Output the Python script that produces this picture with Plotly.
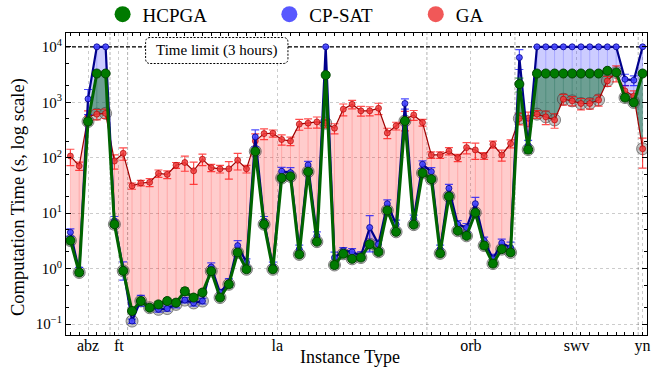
import numpy as np
import plotly.graph_objects as go

# ---------------- data ----------------
groups = ["abz", "ft", "la", "orb", "swv", "yn"]
group_sizes = [5, 2, 34, 10, 14, 1]

hcpga = [3.2, 0.85, 450, 3300, 3300,
         6.3, 0.91,
         0.172, 0.26, 0.197, 0.226, 0.26, 0.243, 0.39, 0.30, 0.37, 0.90, 0.30, 0.52, 1.95, 0.97,
         130, 6.3, 0.97, 43, 46, 1.8, 56, 3.06, 3100, 1.16, 1.85, 1.5, 1.58, 2.75, 2.0, 11.2,
         4.6, 460, 6.2, 53,
         41, 1.88, 20, 4.8, 3.9, 10.2, 2.6, 1.23, 2.24, 1.95,
         2130, 140, 3300, 3300, 3300, 3300, 3300, 3300, 3300, 3300, 3700, 3450, 1215, 990,
         3300]
hcpga_err = [0.4, 0.1, 60, 200, 200,
             0.6, 0.1,
             0.02, 0.03, 0.02, 0.03, 0.03, 0.03, 0.06, 0.03, 0.04, 0.1, 0.03, 0.06, 0.2, 0.1,
             12, 0.6, 0.1, 4, 4, 0.2, 5, 0.3, 250, 0.15, 0.15, 0.15, 0.15, 0.3, 0.2, 1.0,
             0.5, 50, 0.6, 5,
             4, 0.2, 2, 0.5, 0.4, 1.0, 0.3, 0.15, 0.2, 0.2,
             600, 20, 150, 150, 150, 150, 150, 150, 150, 150, 250, 250, 150, 100,
             200]

cpsat = [4.5, 0.9, 1150, 10000, 10000,
         7.2, 0.97,
         0.113, 0.27, 0.20, 0.184, 0.19, 0.226, 0.27, 0.24, 0.26, 1.07, 0.37, 0.56, 2.6, 1.3,
         237, 7.2, 1.11, 57, 54, 2.24, 74, 3.9, 10000, 1.58, 2.1, 2.0, 1.7, 5.5, 2.75, 14.8,
         6.3, 950, 8.0, 76,
         56, 2.24, 28, 6.3, 5.5, 14.8, 3.2, 1.5, 2.9, 2.4,
         6400, 165, 10000, 10000, 10000, 10000, 10000, 10000, 10000, 10000, 10000, 10000, 2600, 2500,
         10000]
cpsat_err = [0.7, 0.15, 550, 0, 0,
             1.5, 0.35,
             0.01, 0.06, 0.02, 0.02, 0.02, 0.03, 0.03, 0.03, 0.03, 0.2, 0.05, 0.1, 0.6, 0.2,
             80, 1.5, 0.2, 10, 12, 0.4, 12, 0.7, 0, 0.4, 0.3, 0.3, 0.3, 3.5, 0.5, 2.5,
             1.2, 200, 1.2, 12,
             10, 0.4, 5, 1.0, 1.0, 4.5, 0.5, 0.3, 0.5, 0.6,
             2500, 40, 0, 0, 0, 0, 0, 0, 0, 0, 0, 0, 600, 500,
             0]

ga = [107, 71, 550, 610, 630,
      87, 120,
      31, 35, 36, 52, 50, 73, 82, 58, 94, 66, 63, 63, 90, 63,
      200, 272, 276, 213, 200, 403, 420, 442, 420, 340, 750, 920, 700, 700, 780, 280,
      376, 495, 590, 430,
      112, 112, 132, 100, 152, 138, 108, 174, 112, 180,
      510, 515, 610, 545, 480, 1135, 1060, 950, 950, 1100, 2430, 3440, 1600, 1300,
      145]
ga_err = [35, 12, 150, 130, 120,
          25, 30,
          4, 4, 6, 8, 8, 9, 25, 25, 22, 10, 10, 22, 30, 10,
          70, 60, 40, 45, 35, 90, 80, 100, 70, 70, 180, 160, 140, 130, 180, 60,
          60, 190, 120, 60,
          15, 15, 20, 15, 35, 45, 15, 25, 25, 30,
          120, 150, 100, 150, 140, 250, 200, 220, 200, 250, 500, 1100, 400, 300,
          80]

time_limit = 10000
y_ticks = [0.1, 1, 10, 100, 1000, 10000]
y_ticktext = ["10<sup>−1</sup>", "10<sup>0</sup>", "10<sup>1</sup>", "10<sup>2</sup>",
              "10<sup>3</sup>", "10<sup>4</sup>"]

# ---------------- helpers ----------------
n = sum(group_sizes)
x = list(range(n))
starts = np.cumsum([0] + group_sizes[:-1])
centers = [s + (c - 1) / 2 for s, c in zip(starts, group_sizes)]
bounds = [s - 0.5 for s in starts[1:]]

FONT = "Liberation Serif"


def band(a, b):
    la_, lb_ = np.log10(a), np.log10(b)
    px_, py_, nx_, ny_ = [], [], [], []

    def add(poly, d):
        if d > 0:
            px_.extend(poly[0] + [None]); py_.extend(poly[1] + [None])
        elif d < 0:
            nx_.extend(poly[0] + [None]); ny_.extend(poly[1] + [None])

    for i in range(n - 1):
        d0 = la_[i] - lb_[i]
        d1 = la_[i + 1] - lb_[i + 1]
        if d0 * d1 < 0:
            t = d0 / (d0 - d1)
            xc = x[i] + t
            yc = 10 ** (la_[i] + t * (la_[i + 1] - la_[i]))
            add(([x[i], xc, x[i]], [a[i], yc, b[i]]), d0)
            add(([xc, x[i + 1], x[i + 1]], [yc, a[i + 1], b[i + 1]]), d1)
        else:
            add(([x[i], x[i + 1], x[i + 1], x[i]], [a[i], a[i + 1], b[i + 1], b[i]]), d0 + d1)
    return px_, py_, nx_, ny_


def vlines(a, b):
    px_, py_, nx_, ny_ = [], [], [], []
    for i in range(n):
        if a[i] > b[i]:
            px_ += [x[i], x[i], None]; py_ += [a[i], b[i], None]
        elif a[i] < b[i]:
            nx_ += [x[i], x[i], None]; ny_ += [a[i], b[i], None]
    return px_, py_, nx_, ny_


fig = go.Figure()

band_specs = [
    (ga, "rgba(255,0,0,0.2)", "rgba(20,100,80,0.62)", "rgba(255,0,0,0.18)", "rgba(20,100,80,0.3)"),
    (cpsat, "rgba(0,0,255,0.2)", "rgba(120,40,200,0.35)", "rgba(0,0,255,0.18)", "rgba(120,40,200,0.3)"),
]
for other, cpos, cneg, lpos, lneg in band_specs:
    px_, py_, nx_, ny_ = band(other, hcpga)
    fig.add_trace(go.Scatter(x=px_, y=py_, mode="none", fill="toself", fillcolor=cpos,
                             showlegend=False, hoverinfo="skip"))
    fig.add_trace(go.Scatter(x=nx_, y=ny_, mode="none", fill="toself", fillcolor=cneg,
                             showlegend=False, hoverinfo="skip"))
    vx, vy, wx, wy = vlines(other, hcpga)
    fig.add_trace(go.Scatter(x=vx, y=vy, mode="lines", line=dict(color=lpos, width=1),
                             showlegend=False, hoverinfo="skip"))
    fig.add_trace(go.Scatter(x=wx, y=wy, mode="lines", line=dict(color=lneg, width=1),
                             showlegend=False, hoverinfo="skip"))

# time limit line
fig.add_trace(go.Scatter(x=[-0.5, n - 0.5], y=[time_limit, time_limit], mode="lines",
                         line=dict(color="black", width=1.2, dash="4px,2px"),
                         showlegend=False, hoverinfo="skip"))

# best (min) markers
best = [min(a, b, c) for a, b, c in zip(hcpga, cpsat, ga)]
fig.add_trace(go.Scatter(x=x, y=best, mode="markers",
                         marker=dict(size=12, color="rgba(128,128,128,0.45)",
                                     line=dict(color="rgba(60,60,60,0.6)", width=1)),
                         showlegend=False, hoverinfo="skip"))

# GA
fig.add_trace(go.Scatter(x=x, y=ga, mode="lines+markers",
                         line=dict(color="#a00000", width=1.2),
                         marker=dict(size=6, color="rgba(240,60,60,0.85)",
                                     line=dict(color="rgba(170,0,0,0.8)", width=0.8)),
                         error_y=dict(type="data", array=ga_err, color="rgba(255,0,0,0.7)",
                                      thickness=1.2, width=4),
                         showlegend=False))
# CP-SAT
fig.add_trace(go.Scatter(x=x, y=cpsat, mode="lines+markers",
                         line=dict(color="#00008b", width=2.2),
                         marker=dict(size=6, color="rgba(70,70,255,0.9)",
                                     line=dict(color="#00008b", width=0.8)),
                         error_y=dict(type="data", array=cpsat_err, color="rgba(0,0,255,0.7)",
                                      thickness=1.2, width=4),
                         showlegend=False))
# HCPGA
fig.add_trace(go.Scatter(x=x, y=hcpga, mode="lines+markers",
                         line=dict(color="#006400", width=3),
                         marker=dict(size=9, color="#007a00",
                                     line=dict(color="#004400", width=1)),
                         error_y=dict(type="data", array=hcpga_err, color="rgba(0,128,0,0.7)",
                                      thickness=1.2, width=4),
                         showlegend=False))

# legend entries, each in its own legend box so that spacing matches
legend_items = [("HCPGA", "#007a00", "legend"),
                ("CP-SAT", "rgba(70,70,255,0.9)", "legend2"),
                ("GA", "rgba(240,70,70,0.9)", "legend3")]
for name, col, lg in legend_items:
    fig.add_trace(go.Scatter(x=[None], y=[None], mode="markers", name=name, legend=lg,
                             marker=dict(size=16, color=col)))

# group boundary lines
for bnd in bounds:
    fig.add_shape(type="line", x0=bnd, x1=bnd, y0=0, y1=1, xref="x", yref="paper",
                  line=dict(color="rgba(0,0,0,0.3)", width=1, dash="3px,2px"), layer="below")

# time-limit label box (rounded, dashed)
bx0, bx1, by0, by1 = 0.137, 0.382, 0.899, 0.985
rx, ry = 0.008, 0.016
path = (f"M {bx0+rx},{by0} L {bx1-rx},{by0} Q {bx1},{by0} {bx1},{by0+ry} "
        f"L {bx1},{by1-ry} Q {bx1},{by1} {bx1-rx},{by1} L {bx0+rx},{by1} "
        f"Q {bx0},{by1} {bx0},{by1-ry} L {bx0},{by0+ry} Q {bx0},{by0} {bx0+rx},{by0} Z")
fig.add_shape(type="path", path=path, xref="paper", yref="paper",
              line=dict(color="black", width=1, dash="2px,1.5px"), fillcolor="white", layer="above")
fig.add_annotation(x=(bx0 + bx1) / 2, y=(by0 + by1) / 2, xref="paper", yref="paper",
                   xanchor="center", yanchor="middle",
                   text="Time limit (3 hours)", showarrow=False,
                   font=dict(family=FONT, size=15, color="black"))

# axis titles
fig.add_annotation(x=0.489, y=-0.073, xref="paper", yref="paper", xanchor="center", yanchor="middle",
                   text="Instance Type", showarrow=False, font=dict(family=FONT, size=18))
fig.add_annotation(x=-0.0827, y=0.4565, xref="paper", yref="paper", xanchor="center", yanchor="middle",
                   text="Computation Time (s, log scale)", textangle=-90, showarrow=False,
                   font=dict(family=FONT, size=18.5))

leg_common = dict(orientation="h", xanchor="left", y=1.062, yanchor="middle",
                  font=dict(family=FONT, size=19), bgcolor="rgba(0,0,0,0)")

fig.update_layout(
    width=658, height=377,
    margin=dict(l=66, r=11, t=33, b=42, autoexpand=False),
    plot_bgcolor="white", paper_bgcolor="white",
    font=dict(family=FONT, color="black"),
    legend=dict(x=0.063, **leg_common),
    legend2=dict(x=0.350, **leg_common),
    legend3=dict(x=0.602, **leg_common),
    xaxis=dict(range=[-0.5, n - 0.5], tickvals=centers, ticktext=groups,
               showgrid=True, gridcolor="rgba(0,0,0,0.2)", griddash="dot", gridwidth=1,
               showline=True, linecolor="black", linewidth=1, mirror="ticks",
               ticks="inside", ticklen=0, zeroline=False, ticklabelstandoff=-4,
               tickfont=dict(family=FONT, size=16),
               minor=dict(dtick=1, tick0=0, ticks="inside", ticklen=3, tickcolor="black",
                          showgrid=False)),
    yaxis=dict(type="log", range=[np.log10(0.0634), np.log10(17750)],
               tickvals=y_ticks, ticktext=y_ticktext,
               showgrid=True, gridcolor="rgba(0,0,0,0.2)", griddash="dot", gridwidth=1,
               showline=True, linecolor="black", linewidth=1, mirror="ticks",
               ticks="inside", ticklen=5, tickcolor="black", zeroline=False,
               tickfont=dict(family=FONT, size=15),
               minor=dict(ticks="inside", ticklen=3, tickcolor="black", showgrid=False)),
)

fig.write_html("out.html", config={"displayModeBar": False},
               post_script="document.body.style.margin='0';document.body.style.padding='0';")
